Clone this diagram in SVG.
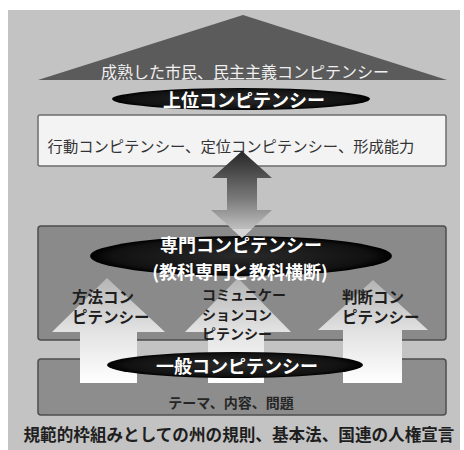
<svg xmlns="http://www.w3.org/2000/svg" width="464" height="450" viewBox="0 0 464 450">
<defs>
<linearGradient id="dbl" x1="0" y1="0" x2="0" y2="1">
<stop offset="0" stop-color="#262626"/>
<stop offset="0.55" stop-color="#7a7a7a"/>
<stop offset="1" stop-color="#d4d4d4"/>
</linearGradient>
<linearGradient id="up" x1="0" y1="0" x2="0" y2="1">
<stop offset="0" stop-color="#b4b4b4"/>
<stop offset="0.5" stop-color="#e2e2e2"/>
<stop offset="1" stop-color="#ffffff"/>
</linearGradient>
<radialGradient id="ell" cx="0.5" cy="0.5" r="0.5">
<stop offset="0" stop-color="#2a2a2a"/>
<stop offset="0.85" stop-color="#111"/>
<stop offset="1" stop-color="#000"/>
</radialGradient>
</defs>
<style>
.t{font-family:"Noto Sans CJK JP","Noto Sans",sans-serif;text-anchor:middle;dominant-baseline:central}
.w{fill:#ffffff;font-weight:bold}
.d{fill:#1e1e1e;font-weight:bold}
.l{font-family:"Noto Sans CJK JP","Noto Sans",sans-serif;fill:#1e1e1e;font-weight:bold;font-size:15.5px;dominant-baseline:central}
.m{font-size:14px}
.box{stroke:#4e4e4e;stroke-width:1.5}
</style>
<rect x="8" y="10" width="452" height="440" fill="#c3c3c3"/>
<g id="roof">
<polygon points="243,15 447,80 38,80" fill="#5b5b5b"/>
<text class="t" x="245" y="71" font-size="16" fill="#f0f0f0">成熟した市民、民主主義コンピテンシー</text>
</g>
<g id="upper">
<ellipse cx="241" cy="99" rx="129" ry="11" fill="url(#ell)"/>
<text class="t w" x="244" y="99" font-size="18">上位コンピテンシー</text>
</g>
<g id="actions">
<rect x="38" y="115" width="408" height="51" rx="2" fill="#f3f3f3" stroke="#6e6e6e" stroke-width="1.5"/>
<text class="t" x="231" y="145" font-size="15.3" fill="#333">行動コンピテンシー、定位コンピテンシー、形成能力</text>
</g>
<g id="special-box">
<rect class="box" x="38" y="226" width="408" height="114" rx="3" fill="#8a8a8a"/>
</g>
<g id="general-box">
<rect class="box" x="38" y="359" width="408" height="56" rx="3" fill="#8d8d8d"/>
<text class="t" x="231" y="402" font-size="14" fill="#262626" font-weight="bold">テーマ、内容、問題</text>
</g>
<g id="connectors">
<polygon points="242,151 272,178 257,178 257,210 272,210 242,238 211,210 227,210 227,178 212,178" fill="url(#dbl)"/>
<polygon points="107,278 165,332 137,332 137,383 80,383 80,332 52,332" fill="url(#up)"/>
<polygon points="238,278 291,332 264,332 264,383 208,383 208,332 185,332" fill="url(#up)"/>
<polygon points="373,280 428,330 402,330 402,383 343,383 343,330 318,330" fill="url(#up)"/>
</g>
<g id="special">
<ellipse cx="241" cy="256" rx="151" ry="20" fill="url(#ell)"/>
<polygon points="232,229 252,229 242,238" fill="#d4d4d4"/>
<text class="t w" x="241" y="244" font-size="18">専門コンピテンシー</text>
<text class="t w" x="240" y="271" font-size="18">(教科専門と教科横断)</text>
</g>
<g id="method">
<text class="l" x="72" y="296">方法コン</text>
<text class="l" x="72" y="316">ピテンシー</text>
</g>
<g id="communication">
<text class="l m" x="202" y="294">コミュニケー</text>
<text class="l m" x="202" y="314">ションコン</text>
<text class="l m" x="202" y="333">ピテンシー</text>
</g>
<g id="judgement">
<text class="l" x="342" y="296">判断コン</text>
<text class="l" x="342" y="316">ピテンシー</text>
</g>
<g id="general">
<ellipse cx="235" cy="365" rx="128" ry="13" fill="url(#ell)"/>
<text class="t w" x="237" y="365" font-size="18">一般コンピテンシー</text>
</g>
<g id="norms">
<text class="t d" x="239" y="434" font-size="16.6">規範的枠組みとしての州の規則、基本法、国連の人権宣言</text>
</g>
</svg>
